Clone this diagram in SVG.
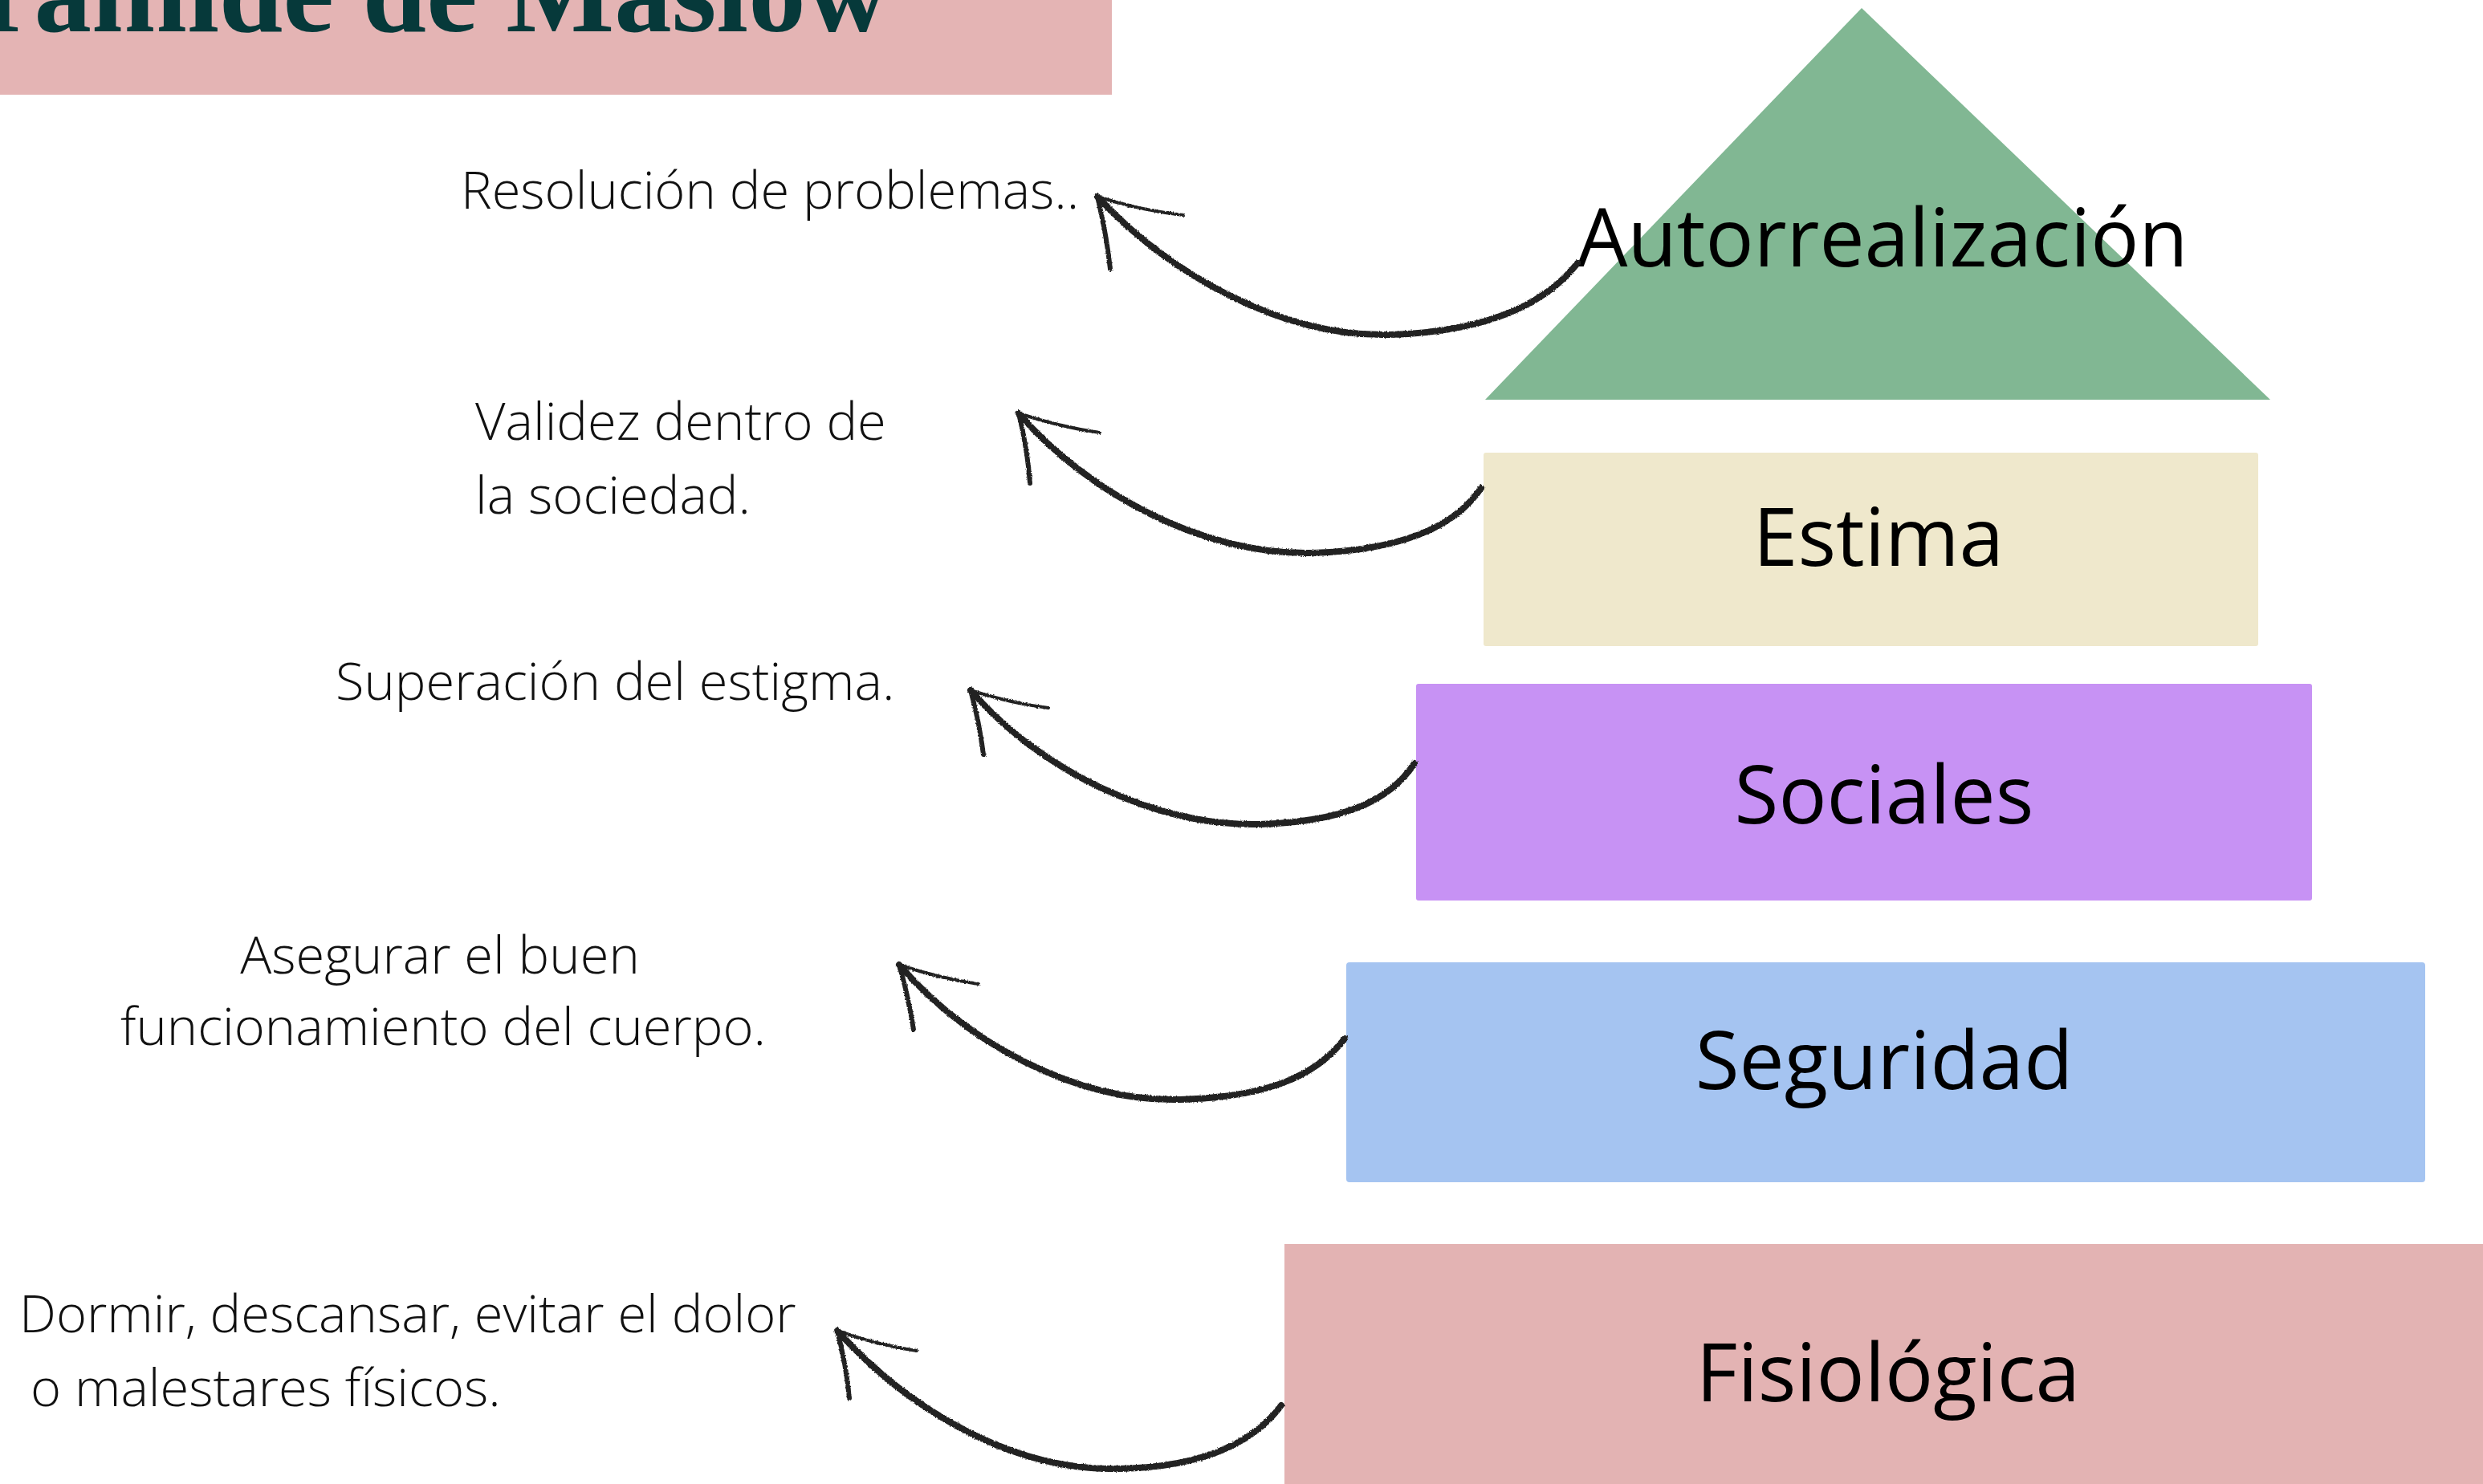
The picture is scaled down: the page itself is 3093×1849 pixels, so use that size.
<svg xmlns="http://www.w3.org/2000/svg" width="3093" height="1849" viewBox="0 0 3093 1849">
<defs>
<style>
.lbl{font-family:"Open Sans","Noto Sans",sans-serif;font-size:100px;fill:#000;text-anchor:middle}
.note{font-family:"Open Sans","Noto Sans",sans-serif;font-weight:300;font-size:65px;fill:#111}
.arc{fill:none;stroke:#222;stroke-width:8;stroke-linecap:round}
.barb1{fill:none;stroke:#222;stroke-width:4;stroke-linecap:round}
.barb2{fill:none;stroke:#222;stroke-width:6;stroke-linecap:round}
</style>
<filter id="rough" x="-5%" y="-5%" width="110%" height="110%">
<feTurbulence type="fractalNoise" baseFrequency="0.6" numOctaves="2" seed="3" result="n"/>
<feDisplacementMap in="SourceGraphic" in2="n" scale="3" xChannelSelector="R" yChannelSelector="G"/>
</filter>
</defs>
<rect width="3093" height="1849" fill="#fff"/>
<g id="title">
<rect x="0" y="0" width="1385" height="118" fill="#E4B4B4"/>
<text x="1107" y="39" font-family="Liberation Serif, serif" font-weight="bold" font-size="143" fill="#06393A" text-anchor="end">Pirámide de Maslow</text>
</g>
<g id="autorrealizacion">
<polygon points="2319,10 2828,498 1850,498" fill="#81B793"/>
<text class="lbl" x="2345" y="332">Autorrealización</text>
</g>
<g id="estima">
<rect x="1848" y="564" width="965" height="241" rx="3" fill="#EFE8CC"/>
<text class="lbl" x="2340" y="705">Estima</text>
</g>
<g id="sociales">
<rect x="1764" y="852" width="1116" height="270" rx="3" fill="#C792F4"/>
<text class="lbl" x="2347" y="1026">Sociales</text>
</g>
<g id="seguridad">
<rect x="1677" y="1199" width="1344" height="274" rx="4" fill="#A5C4F1"/>
<text class="lbl" x="2347" y="1357">Seguridad</text>
</g>
<g id="fisiologica">
<rect x="1600" y="1550" width="1493" height="299" fill="#E3B3B3"/>
<text class="lbl" x="2352" y="1746">Fisiológica</text>
</g>
<g id="note-autorrealizacion">
<text class="note" x="574" y="260">Resolución de problemas..</text>
</g>
<g id="note-estima">
<text class="note" x="592" y="548">Validez dentro de</text>
<text class="note" x="592" y="640">la sociedad.</text>
</g>
<g id="note-sociales">
<text class="note" x="418" y="872">Superación del estigma.</text>
</g>
<g id="note-seguridad">
<text class="note" x="548" y="1213" text-anchor="middle">Asegurar el buen</text>
<text class="note" x="552" y="1302" text-anchor="middle">funcionamiento del cuerpo.</text>
</g>
<g id="note-fisiologica">
<text class="note" x="24" y="1660">Dormir, descansar, evitar el dolor</text>
<text class="note" x="38" y="1752">o malestares físicos.</text>
</g>
<g id="connectors" filter="url(#rough)">
<path class="arc" d="M1367 245 C1460 345 1600 420 1730 417 C1840 414 1920 385 1965 328"/>
<path class="barb1" d="M1367 245 Q1420 262 1474 268"/>
<path class="barb2" d="M1367 245 Q1378 290 1383 335"/>
<path class="arc" d="M1269 515 C1355 615 1500 692 1634 689 C1740 686 1810 660 1845 608"/>
<path class="barb1" d="M1269 515 Q1320 532 1370 539"/>
<path class="barb2" d="M1269 515 Q1280 560 1283 602"/>
<path class="arc" d="M1209 860 C1295 960 1440 1030 1568 1027 C1670 1024 1730 1000 1762 951"/>
<path class="barb1" d="M1209 860 Q1258 876 1306 882"/>
<path class="barb2" d="M1209 860 Q1220 900 1225 940"/>
<path class="arc" d="M1120 1202 C1205 1300 1340 1373 1470 1370 C1580 1367 1640 1340 1675 1294"/>
<path class="barb1" d="M1120 1202 Q1170 1219 1219 1226"/>
<path class="barb2" d="M1120 1202 Q1132 1243 1138 1283"/>
<path class="arc" d="M1043 1658 C1133 1758 1263 1833 1393 1830 C1493 1828 1560 1800 1596 1751"/>
<path class="barb1" d="M1043 1658 Q1093 1676 1142 1683"/>
<path class="barb2" d="M1043 1658 Q1054 1700 1058 1742"/>
</g>
</svg>
